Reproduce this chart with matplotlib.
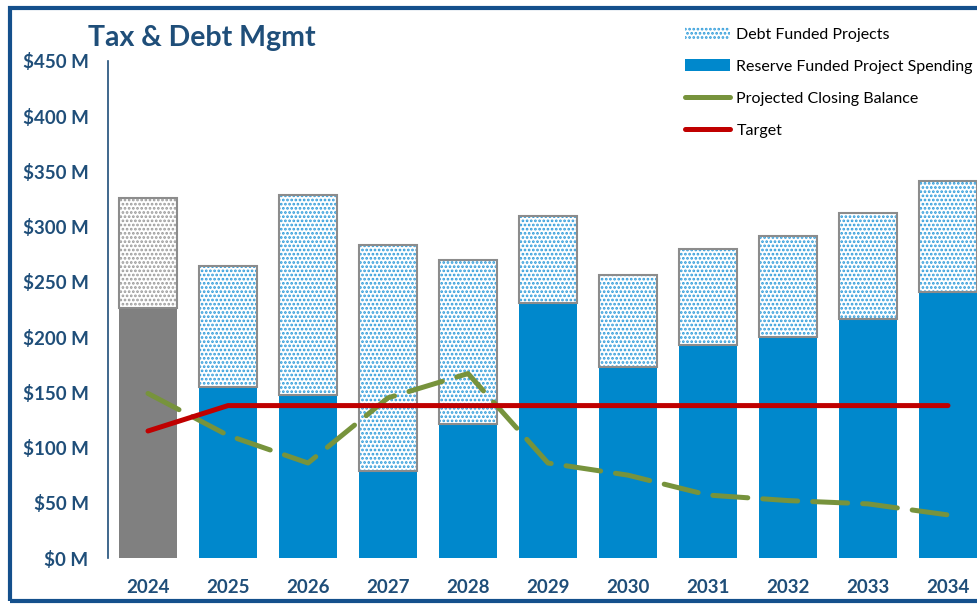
import numpy as np
import matplotlib
matplotlib.use('Agg')
import matplotlib.pyplot as plt
from matplotlib.patches import Rectangle, Patch
from matplotlib.lines import Line2D

plt.rcParams['font.family'] = ['Lato', 'DejaVu Sans']
plt.rcParams['hatch.linewidth'] = 1.3

years = ['2024', '2025', '2026', '2027', '2028', '2029', '2030', '2031', '2032', '2033', '2034']
reserve = [226, 155, 148, 79, 121, 231, 173, 193, 200, 216, 241]
debt = [100, 109, 181, 204, 149, 79, 83, 87, 92, 96, 100]
closing = [149, 111, 86, 145, 167, 86, 75, 57, 52, 49, 39]
target = [115, 138, 138, 138, 138, 138, 138, 138, 138, 138, 138]
yticks = [0, 50, 100, 150, 200, 250, 300, 350, 400, 450]

navy = '#1F4E79'
blue = '#0088CC'
grey = '#808080'
green = '#77933C'
red = '#C00000'

W, H = 977, 604
fig = plt.figure(figsize=(W / 100, H / 100), dpi=100)
ax = fig.add_axes([108 / W, (H - 558) / H, (988 - 108) / W, (558 - 61) / H])

x = np.arange(len(years))
bw = 0.725
res_col = [grey] + [blue] * (len(years) - 1)
dot_col = ['#9A9A9A'] + ['#2E9BDA'] * (len(years) - 1)

ax.bar(x, reserve, bw, color=res_col, edgecolor='none', zorder=2)
# dotted fill for debt part, then outline on top
for i in range(len(years)):
    ax.bar(x[i], debt[i], bw, bottom=reserve[i], color='white', edgecolor=dot_col[i],
           hatch='....', linewidth=0, zorder=2)
    ax.bar(x[i], debt[i], bw, bottom=reserve[i], color='none', edgecolor='#8C8C8C',
           linewidth=1.5, zorder=3)

ax.plot(x, closing, color=green, lw=3.6, dashes=(7, 3), solid_capstyle='round',
        dash_capstyle='round', zorder=4)
ax.plot(x, target, color=red, lw=3.6, solid_capstyle='round', zorder=5)

ax.set_xlim(-0.5, len(years) - 0.5)
ax.set_ylim(0, 450)
ax.set_xticks(x)
ax.set_xticklabels(years)
ax.set_yticks(yticks)
ax.set_yticklabels([f'${v} M' for v in yticks])
ax.tick_params(length=0)
ax.tick_params(axis='y', pad=14, labelsize=13.5, labelcolor=navy)
ax.tick_params(axis='x', pad=15, labelsize=13.5, labelcolor=navy)
for lab in ax.get_xticklabels() + ax.get_yticklabels():
    lab.set_fontweight('bold')
for s in ['top', 'right', 'bottom']:
    ax.spines[s].set_visible(False)
ax.spines['left'].set_color(navy)
ax.spines['left'].set_linewidth(1.2)

fig.text(88 / W, 1 - 38 / H, 'Tax & Debt Mgmt', fontsize=20.5, fontweight='bold',
         color=navy, va='center', ha='left')

handles = [
    Patch(facecolor='white', edgecolor='#2E9BDA', hatch='....', linewidth=0),
    Patch(facecolor=blue, edgecolor='none'),
    Line2D([], [], color=green, lw=3.6, solid_capstyle='round'),
    Line2D([], [], color=red, lw=3.6, solid_capstyle='round'),
]
labels = ['Debt Funded Projects', 'Reserve Funded Project Spending',
          'Projected Closing Balance', 'Target']
fig.legend(handles, labels, loc='upper left', bbox_to_anchor=(679 / W, 1 - 21 / H),
           frameon=False, fontsize=11.5, handlelength=2.8, handletextpad=0.4,
           labelspacing=1.12, borderaxespad=0)

fig.add_artist(Rectangle((10 / W, 3 / H), 1.2, 1 - 11 / H, transform=fig.transFigure,
                         fill=False, edgecolor='#14508C', linewidth=3, zorder=10))

fig.savefig('out.png', dpi=100)
